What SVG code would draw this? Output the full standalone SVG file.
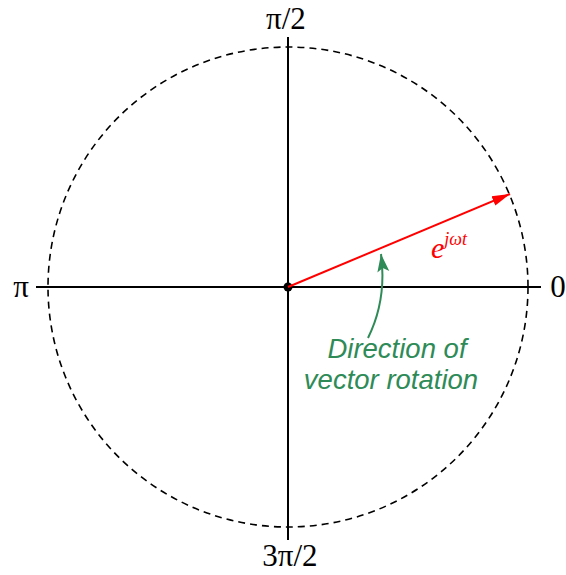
<svg xmlns="http://www.w3.org/2000/svg" width="566" height="575" viewBox="0 0 566 575">
<style>
.lbl{font-family:"Liberation Serif",serif;font-size:31px;fill:#000}
.ax{stroke:#000;stroke-width:2;fill:none}
.note{font-family:"Liberation Sans",sans-serif;font-style:italic;font-size:27.5px;fill:#2e8b57}
</style>
<defs>
<marker id="redhead" markerWidth="20" markerHeight="12" refX="18" refY="6" orient="auto" markerUnits="userSpaceOnUse">
<path d="M0,1 L18,6 L0,11 Z" fill="#ff0000"/>
</marker>
<marker id="greenhead" markerWidth="20" markerHeight="14" refX="18" refY="7" orient="auto" markerUnits="userSpaceOnUse">
<path d="M0,1 L18,7 L0,13 L4,7 Z" fill="#2e8b57"/>
</marker>
</defs>
<g id="circle">
<circle cx="288" cy="287" r="240" fill="none" stroke="#000" stroke-width="1.6" stroke-dasharray="7,5"/>
</g>
<g id="axes">
<line class="ax" x1="36" y1="287" x2="541" y2="287"/>
<line class="ax" x1="288" y1="37" x2="288" y2="540"/>
<circle cx="288" cy="287" r="4.5" fill="#000"/>
</g>
<g id="labels">
<text class="lbl" x="286" y="29" text-anchor="middle">π/2</text>
<text class="lbl" x="21" y="297" text-anchor="middle">π</text>
<text class="lbl" x="558" y="297" text-anchor="middle">0</text>
<text class="lbl" x="290" y="566" text-anchor="middle">3π/2</text>
</g>
<g id="connectors">
<line x1="288" y1="287" x2="510" y2="194" stroke="#ff0000" stroke-width="2" marker-end="url(#redhead)"/>
<path d="M368,338 Q387,300 381,254" fill="none" stroke="#2e8b57" stroke-width="2" marker-end="url(#greenhead)"/>
</g>
<g id="vector-label">
<text x="431" y="258" font-family="Liberation Serif,serif" font-style="italic" font-size="30" fill="#ff0000">e<tspan font-size="18" dy="-13">jωt</tspan></text>
</g>
<g id="rotation-note">
<text class="note" text-anchor="middle"><tspan x="397" y="358">Direction of</tspan><tspan x="391" y="389">vector rotation</tspan></text>
</g>
</svg>
